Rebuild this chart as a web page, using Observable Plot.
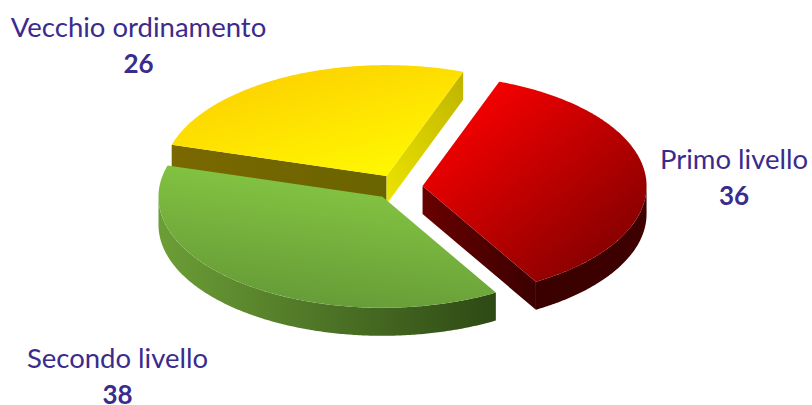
<!DOCTYPE html>
<html lang="it">
<head>
<meta charset="utf-8">
<title>Ordinamento</title>
<script src="https://cdn.jsdelivr.net/npm/d3@7"></script>
<script src="https://cdn.jsdelivr.net/npm/@observablehq/plot@0.6"></script>
<style>
  html, body { margin: 0; padding: 0; background: #fff; }
  svg { display: block; }
</style>
</head>
<body>
<div id="chart"></div>
<script>
// Data
const categories = ["Primo livello", "Secondo livello", "Vecchio ordinamento"];
const values = [36, 38, 26];

// Tilted-disc geometry
const center = {x: 397.3, y: 186.6};
const radiusX = 224;
const radiusY = 111;
const depth = 28;
const explode = 0.111;
const startAngle = 20 * Math.PI / 180;

// Face colours for each slice
const palette = {
  "Primo livello": {
    top: [[0.1, 0.1], [0.8, 0.85], "#ff0000", "#8c0000"],
    radial: [[0, 0], [1, 0], "#680000", "#3c0000"],
    arc: [[0, 0], [1, 0], "#3a0000", "#3e0000"]
  },
  "Secondo livello": {
    top: [[0.62, 0.12], [0.36, 0.9], "#84c542", "#689e38"],
    arc: [[0, 0], [1, 0], "#6c9e36", "#2e4915"]
  },
  "Vecchio ordinamento": {
    top: [[0.1, 0], [0.78, 1], "#fdcb00", "#fff900"],
    radial: [[0, 0], [1, 0], "#7a6800", "#6a6400"],
    radialEnd: [[0, 1], [1, 0], "#ece400", "#bfb400"]
  }
};

// Label centres and text baselines
const labelLayout = [
  {x: 733.5, nameY: 168, valueY: 204},
  {x: 117, nameY: 367, valueY: 403},
  {x: 138, nameY: 36, valueY: 72}
];

const slices = d3.pie().sort(null)
  .startAngle(startAngle)
  .endAngle(startAngle + 2 * Math.PI)(values)
  .map((s, i) => ({...s, name: categories[i]}));

// Project a point given in disc units onto the page
function project(slice, r, angle, drop = 0) {
  const mid = (slice.startAngle + slice.endAngle) / 2;
  return {
    x: center.x + radiusX * (explode * Math.sin(mid) + r * Math.sin(angle)),
    y: center.y - radiusY * (explode * Math.cos(mid) + r * Math.cos(angle)) + drop
  };
}

function arcAngles(a0, a1) {
  const n = Math.max(2, Math.ceil(Math.abs(a1 - a0) / 0.01));
  return d3.range(n + 1).map(i => a0 + (a1 - a0) * i / n);
}

function topFace(slice) {
  return [
    project(slice, 0, 0),
    ...arcAngles(slice.startAngle, slice.endAngle).map(a => project(slice, 1, a))
  ];
}

// A wall between two rim or apex points, extruded downward
function radialWall(slice, angle) {
  return [project(slice, 0, 0), project(slice, 1, angle), project(slice, 1, angle, depth), project(slice, 0, 0, depth)];
}

// The part of the rim that faces the viewer runs from 90 to 270 degrees
function rimWall(slice) {
  const lo = Math.max(slice.startAngle, Math.PI / 2);
  const hi = Math.min(slice.endAngle, 3 * Math.PI / 2);
  if (hi <= lo) return null;
  const angles = arcAngles(lo, hi);
  return [
    ...angles.map(a => project(slice, 1, a)),
    ...angles.slice().reverse().map(a => project(slice, 1, a, depth))
  ];
}

const gradId = (i, face) => `grad-${i}-${face}`;

// Gradient definitions, added to the plot as a small render mark
const gradients = () => {
  const defs = d3.create("svg:defs");
  slices.forEach((s, i) => {
    for (const [face, [p0, p1, c0, c1]] of Object.entries(palette[s.name])) {
      const g = defs.append("linearGradient").attr("id", gradId(i, face))
        .attr("x1", p0[0]).attr("y1", p0[1]).attr("x2", p1[0]).attr("y2", p1[1]);
      g.append("stop").attr("offset", 0).attr("stop-color", c0);
      g.append("stop").attr("offset", 1).attr("stop-color", c1);
    }
  });
  return defs.node();
};

const facePoly = (points, i, face) => Plot.line(points, {
  x: "x", y: "y", curve: "linear-closed",
  stroke: "none", fill: `url(#${gradId(i, face)})`
});

// Painter's order: yellow first, then green over its wall, then red
const drawOrder = [2, 1, 0];
const faceMarks = drawOrder.flatMap(i => {
  const s = slices[i];
  const marks = [];
  const colours = palette[s.name];
  if (colours.radial && i === 0) marks.push(facePoly(radialWall(s, s.endAngle), i, "radial"));
  if (colours.radial && i === 2) marks.push(facePoly(radialWall(s, s.startAngle), i, "radial"));
  if (colours.radialEnd) marks.push(facePoly(radialWall(s, s.endAngle), i, "radialEnd"));
  const rim = rimWall(s);
  if (rim && colours.arc) marks.push(facePoly(rim, i, "arc"));
  marks.push(facePoly(topFace(s), i, "top"));
  return marks;
});

const labels = categories.map((name, i) => ({name, value: values[i], ...labelLayout[i]}));
const textStyle = {
  x: "x", textAnchor: "middle", lineAnchor: "bottom",
  fontFamily: "Lato, 'Open Sans', sans-serif", fill: "#3b2b8c"
};

const chart = Plot.plot({
  width: 812,
  height: 405,
  margin: 0,
  style: {background: "#fff"},
  x: {domain: [0, 812], range: [0, 812], axis: null},
  y: {domain: [0, 405], range: [0, 405], axis: null},
  marks: [
    gradients,
    ...faceMarks,
    Plot.text(labels, {...textStyle, y: "nameY", text: "name", fontSize: 27.5}),
    Plot.text(labels, {...textStyle, y: "valueY", text: d => String(d.value), fontSize: 26, fontWeight: 700})
  ]
});
document.getElementById("chart").append(chart);
</script>
</body>
</html>
